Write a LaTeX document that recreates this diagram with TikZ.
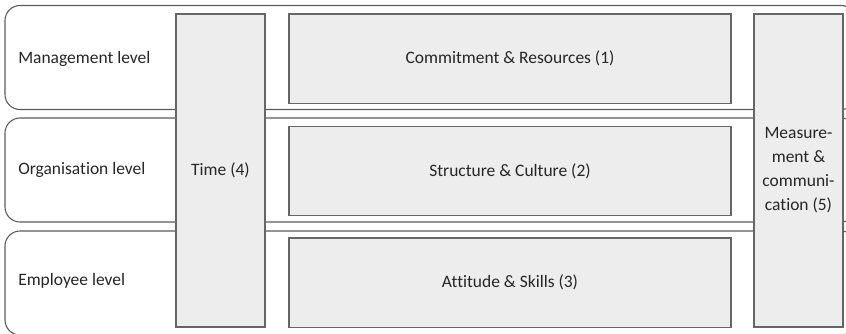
\documentclass[tikz,border=0pt]{standalone}
\usepackage{fontspec}
\setmainfont{Carlito}[Ligatures=NoCommon]
\usepackage{xcolor}
\usepackage{tikz}
\usetikzlibrary{positioning}
\definecolor{boxgray}{HTML}{EDEDED}
\definecolor{edgegray}{HTML}{5A5A5A}

\begin{document}
\begin{tikzpicture}[x=0.75pt, y=-0.75pt,
	font=\fontsize{13.1}{18}\selectfont,
	band/.style = {draw=edgegray, line width=0.8pt, rounded corners=11.25pt,
		minimum width=638.25pt, minimum height=78pt, inner sep=0pt},
	lvl/.style = {anchor=west, inner sep=0pt, text=black!85},
	field/.style = {draw=black!60, line width=1pt, fill=boxgray, inner sep=0pt,
		minimum width=331.5pt, minimum height=67pt, text=black!85},
	pillar/.style = {field, minimum width=66.75pt, minimum height=234.75pt, align=center}]
	\useasboundingbox (0,0) rectangle (846,333);
	\clip (0,0) rectangle (846,333);

	% the three levels
	\node[band] (mgmt) at (430.5, 57.5) {};
	\node[band] (org) at (430.5, 170) {};
	\node[band] (empl) at (430.5, 283) {};

	\node[lvl] (mgmtlbl) at (18, 59) {Management level};
	\node[lvl] (orglbl) at (18, 170) {Organisation level};
	\node[lvl] (empllbl) at (18, 281) {Employee level};

	% factors per level
	\node[field] (commit) at (510, 58.5) {Commitment \& Resources (1)};
	\node[field] (struct) at (510, 171) {Structure \& Culture (2)};
	\node[field] (attit) at (510, 282.5) {Attitude \& Skills (3)};

	% factors across all levels
	\node[pillar] (time) at (220.5, 170.5) {Time (4)};
	\node[pillar] (measure) at (798.5, 170.5) {Measure-\\ment \&\\communi-\\cation (5)};
\end{tikzpicture}
\end{document}
